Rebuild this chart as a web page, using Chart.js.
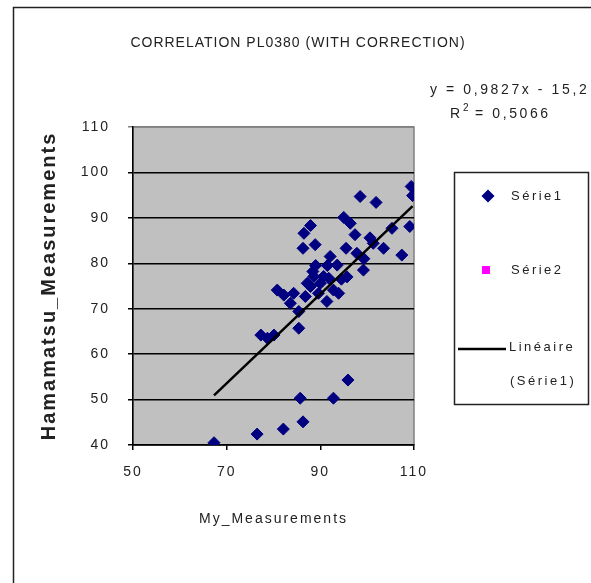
<!DOCTYPE html>
<html>
<head>
<meta charset="utf-8">
<script src="https://cdn.jsdelivr.net/npm/chart.js@4.4.0/dist/chart.umd.min.js"></script>
<style>
  html, body { margin: 0; padding: 0; background: #fff; }
  #wrap { width: 591px; height: 583px; }
</style>
</head>
<body>
<div id="wrap"><canvas id="chart" width="591" height="583"></canvas></div>
<script>
// Série1 points
const serie1X = [67.3, 76.5, 82.1, 86.3, 85.7, 92.8, 95.9,
  77.3, 78.7, 80.1, 85.4, 85.4, 80.8, 82.2, 84.3, 83.6, 86.8, 87.9,
  88.6, 90.0, 91.8, 89.6, 91.4, 92.8, 93.9, 90.7, 88.4, 92.1, 93.6,
  91.5, 95.7, 87.2, 86.3, 86.5, 87.9, 88.9, 95.0, 96.4, 97.4, 95.5,
  97.8, 99.2, 99.3, 100.6, 101.3, 103.5, 105.3, 107.4, 98.5, 101.9,
  109.4, 109.7, 109.1, 89.0, 94.5];
const serie1Y = [40.5, 42.4, 43.5, 45.1, 50.3, 50.3, 54.3,
  64.2, 63.5, 64.2, 65.7, 69.4, 74.1, 73.0, 73.4, 71.2, 72.7, 74.9,
  77.1, 75.6, 76.7, 73.4, 71.6, 74.1, 73.4, 77.1, 78.2, 81.5, 79.6,
  79.5, 77.0, 75.6, 83.3, 86.6, 88.3, 84.1, 90.1, 88.8, 86.3, 83.3,
  82.2, 78.5, 81.0, 85.6, 84.4, 83.3, 87.7, 81.8, 94.7, 93.4,
  96.9, 94.9, 88.1, 79.5, 76.5];
// Série2 has no visible points, only its legend entry
const serie2X = [];
const serie2Y = [];

const xTicks = [50, 70, 90, 110];
const yTicks = [40, 50, 60, 70, 80, 90, 100, 110];

// trend line as printed on the chart
const trendSlope = 0.9827;
const trendIntercept = -15.2;
const trendR2 = 0.5066;

const FONT = '"Liberation Sans", Arial, sans-serif';
const NAVY = '#000080';

function toPoints(xs, ys) {
  return xs.map((x, i) => ({ x: x, y: ys[i] }));
}
function frNum(v, d) {
  return v.toFixed(d).replace('.', ',');
}

const xMin = Math.min(...serie1X);
const xMax = Math.max(...serie1X);
const trendData = [xMin, xMax].map(x => ({ x: x, y: trendSlope * x + trendIntercept }));

function spacedText(ctx, text, x, y, spacing) {
  ctx.letterSpacing = spacing + 'px';
  ctx.fillText(text, x, y);
  ctx.letterSpacing = '0px';
}

const excelLook = {
  id: 'excelLook',
  beforeDraw(chart) {
    const { ctx, chartArea: a } = chart;
    ctx.save();
    ctx.fillStyle = '#fff';
    ctx.fillRect(0, 0, chart.width, chart.height);
    // outer chart frame
    ctx.strokeStyle = '#222';
    ctx.lineWidth = 1.5;
    ctx.strokeRect(13.5, 7.5, 800, 800);
    // grey plot area
    ctx.fillStyle = '#c0c0c0';
    ctx.fillRect(a.left, a.top, a.right - a.left, a.bottom - a.top);
    ctx.strokeStyle = '#808080';
    ctx.lineWidth = 1.5;
    ctx.strokeRect(a.left, a.top, a.right - a.left, a.bottom - a.top);
    ctx.restore();
    // Excel-like wide lettering for ticks and axis titles
    ctx.letterSpacing = '2px';
  },
  afterDraw(chart) {
    const ctx = chart.ctx;
    ctx.save();
    ctx.fillStyle = '#222';
    ctx.textBaseline = 'middle';

    // title
    ctx.font = '14px ' + FONT;
    ctx.textAlign = 'center';
    spacedText(ctx, 'CORRELATION PL0380 (WITH CORRECTION)', 298, 43, 1);

    // equation + R²
    ctx.textAlign = 'left';
    const eq = 'y = ' + frNum(trendSlope, 4) + 'x - ' + frNum(Math.abs(trendIntercept), 1);
    spacedText(ctx, eq, 430, 90, 2.6);
    spacedText(ctx, 'R', 450, 114, 2.6);
    ctx.font = '10px ' + FONT;
    spacedText(ctx, '2', 463, 108, 1);
    ctx.font = '14px ' + FONT;
    spacedText(ctx, '= ' + frNum(trendR2, 4), 475, 114, 2.6);

    // legend box
    ctx.strokeStyle = '#222';
    ctx.lineWidth = 1.5;
    ctx.strokeRect(454.5, 172.5, 134, 232);
    ctx.font = '13px ' + FONT;
    const ds = chart.data.datasets;
    // Série1
    ctx.fillStyle = NAVY;
    ctx.strokeStyle = NAVY;
    Chart.helpers.drawPoint(ctx, { pointStyle: 'rectRot', radius: 5.5, rotation: 0, borderWidth: 1 }, 488, 196);
    ctx.fillStyle = '#222';
    spacedText(ctx, ds[1].label, 511, 196, 2.5);
    // Série2
    ctx.fillStyle = ds[2].backgroundColor;
    ctx.fillRect(482, 266, 8, 8);
    ctx.fillStyle = '#222';
    spacedText(ctx, ds[2].label, 511, 270, 2.5);
    // Linéaire (Série1)
    ctx.strokeStyle = '#000';
    ctx.lineWidth = 2.5;
    ctx.beginPath();
    ctx.moveTo(458, 349);
    ctx.lineTo(506, 349);
    ctx.stroke();
    spacedText(ctx, 'Linéaire', 509, 347, 2.5);
    spacedText(ctx, '(Série1)', 510, 381, 2.5);
    ctx.restore();
  }
};

new Chart(document.getElementById('chart'), {
  type: 'scatter',
  data: {
    datasets: [
      {
        label: 'Linéaire (Série1)',
        type: 'line',
        data: trendData,
        borderColor: '#000',
        borderWidth: 2.5,
        pointRadius: 0,
        fill: false,
        order: 0
      },
      {
        label: 'Série1',
        data: toPoints(serie1X, serie1Y),
        pointStyle: 'rectRot',
        pointRadius: 6,
        backgroundColor: NAVY,
        borderColor: NAVY,
        borderWidth: 1,
        order: 1
      },
      {
        label: 'Série2',
        data: toPoints(serie2X, serie2Y),
        pointStyle: 'rect',
        pointRadius: 4,
        backgroundColor: '#ff00ff',
        borderColor: '#ff00ff',
        order: 2
      }
    ]
  },
  options: {
    responsive: false,
    animation: false,
    devicePixelRatio: 1,
    layout: { padding: { top: 127, right: 177, left: 0, bottom: 0 } },
    plugins: {
      legend: { display: false },
      tooltip: { enabled: false }
    },
    scales: {
      x: {
        type: 'linear',
        min: 50,
        max: 110,
        afterBuildTicks: s => { s.ticks = xTicks.map(v => ({ value: v })); },
        afterFit: s => { s.height = 138; },
        ticks: { font: { size: 14, family: FONT }, color: '#222', padding: 14 },
        grid: { drawOnChartArea: false, drawTicks: true, tickLength: 5, color: '#000', lineWidth: 1.5 },
        border: { color: '#000', width: 1.5 },
        title: {
          display: true,
          text: 'My_Measurements',
          font: { size: 14, family: FONT },
          color: '#222',
          padding: { top: 4, bottom: 55 }
        }
      },
      y: {
        min: 40,
        max: 110,
        afterBuildTicks: s => { s.ticks = yTicks.map(v => ({ value: v })); },
        afterFit: s => { s.width = 133; },
        ticks: { font: { size: 14, family: FONT }, color: '#222', padding: 18 },
        grid: {
          color: c => (c.tick && c.tick.value === 110 ? '#808080' : '#000'),
          lineWidth: 1.5,
          tickLength: 5
        },
        border: { color: '#000', width: 1.5 },
        title: {
          display: true,
          text: 'Hamamatsu_Measurements',
          font: { size: 20, family: FONT, weight: 'bold' },
          color: '#222',
          padding: { top: 37, bottom: 4 }
        }
      }
    }
  },
  plugins: [excelLook]
});
</script>
</body>
</html>
